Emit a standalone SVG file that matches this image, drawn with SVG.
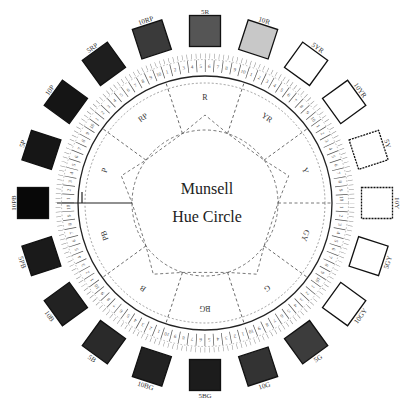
<svg xmlns="http://www.w3.org/2000/svg" width="401" height="401" viewBox="0 0 401 401">
<style>
.sq{stroke:#111;stroke-width:1.3}
.lab{font-family:"Liberation Serif",serif;font-size:7px;fill:#333;text-anchor:middle}
.sec{font-family:"Liberation Serif",serif;font-size:8px;fill:#333;text-anchor:middle}
.num{font-family:"Liberation Serif",serif;font-size:5px;fill:#555;text-anchor:middle}
.title{font-family:"Liberation Serif",serif;font-size:16px;fill:#222;text-anchor:middle}
.dash{fill:none;stroke:#555;stroke-width:0.8;stroke-dasharray:3 2.5}
</style>
<rect width="401" height="401" fill="#fff"/>
<g id="connectors">
<circle cx="205" cy="203" r="73" class="dash"/>
<polygon class="dash" points="182.44,133.57 205,115 227.56,133.57 264.06,160.09 288.70,175.81 278,203 264.06,245.91 256.73,274.19 227.56,272.43 182.44,272.43 153.27,274.19 145.94,245.91 132,203 121.30,175.81 145.94,160.09"/>
<g class="dash">
<line x1="278" y1="203" x2="332" y2="203" transform="rotate(-108 205 203)"/>
<line x1="278" y1="203" x2="332" y2="203" transform="rotate(-72 205 203)"/>
<line x1="278" y1="203" x2="332" y2="203" transform="rotate(-36 205 203)"/>
<line x1="278" y1="203" x2="332" y2="203"/>
<line x1="278" y1="203" x2="332" y2="203" transform="rotate(36 205 203)"/>
<line x1="278" y1="203" x2="332" y2="203" transform="rotate(72 205 203)"/>
<line x1="278" y1="203" x2="332" y2="203" transform="rotate(108 205 203)"/>
<line x1="278" y1="203" x2="332" y2="203" transform="rotate(144 205 203)"/>
<line x1="278" y1="203" x2="332" y2="203" transform="rotate(216 205 203)"/>
</g>
<line x1="132" y1="203" x2="57" y2="203" stroke="#222" stroke-width="1.2"/>
<line x1="82" y1="192" x2="82" y2="203" stroke="#222" stroke-width="1.2"/>
<circle cx="205" cy="203" r="120" fill="none" stroke="#777" stroke-width="0.7" stroke-dasharray="2 2"/>
<circle cx="205" cy="203" r="127" fill="none" stroke="#222" stroke-width="1.3"/>
<circle cx="205" cy="203" r="137" fill="none" stroke="#555" stroke-width="12" stroke-dasharray="0.7 7.908" stroke-dashoffset="0.35"/>
<circle cx="205" cy="203" r="143.5" fill="none" stroke="#888" stroke-width="0.6" stroke-dasharray="1.5 2"/>
<circle cx="205" cy="203" r="147" fill="none" stroke="#888" stroke-width="5" stroke-dasharray="0.5 4.118" stroke-dashoffset="0.25"/>
</g>
<g id="scale-numbers" class="num">
<g><text x="205" y="68" transform="rotate(-16.2 205 203)">1</text><text x="205" y="68" transform="rotate(-12.6 205 203)">2</text><text x="205" y="68" transform="rotate(-9 205 203)">3</text><text x="205" y="68" transform="rotate(-5.4 205 203)">4</text><text x="205" y="68" transform="rotate(-1.8 205 203)">5</text><text x="205" y="68" transform="rotate(1.8 205 203)">6</text><text x="205" y="68" transform="rotate(5.4 205 203)">7</text><text x="205" y="68" transform="rotate(9 205 203)">8</text><text x="205" y="68" transform="rotate(12.6 205 203)">9</text><text x="205" y="68" transform="rotate(16.2 205 203)">10</text></g>
<g transform="rotate(36 205 203)"><text x="205" y="68" transform="rotate(-16.2 205 203)">1</text><text x="205" y="68" transform="rotate(-12.6 205 203)">2</text><text x="205" y="68" transform="rotate(-9 205 203)">3</text><text x="205" y="68" transform="rotate(-5.4 205 203)">4</text><text x="205" y="68" transform="rotate(-1.8 205 203)">5</text><text x="205" y="68" transform="rotate(1.8 205 203)">6</text><text x="205" y="68" transform="rotate(5.4 205 203)">7</text><text x="205" y="68" transform="rotate(9 205 203)">8</text><text x="205" y="68" transform="rotate(12.6 205 203)">9</text><text x="205" y="68" transform="rotate(16.2 205 203)">10</text></g>
<g transform="rotate(72 205 203)"><text x="205" y="68" transform="rotate(-16.2 205 203)">1</text><text x="205" y="68" transform="rotate(-12.6 205 203)">2</text><text x="205" y="68" transform="rotate(-9 205 203)">3</text><text x="205" y="68" transform="rotate(-5.4 205 203)">4</text><text x="205" y="68" transform="rotate(-1.8 205 203)">5</text><text x="205" y="68" transform="rotate(1.8 205 203)">6</text><text x="205" y="68" transform="rotate(5.4 205 203)">7</text><text x="205" y="68" transform="rotate(9 205 203)">8</text><text x="205" y="68" transform="rotate(12.6 205 203)">9</text><text x="205" y="68" transform="rotate(16.2 205 203)">10</text></g>
<g transform="rotate(108 205 203)"><text x="205" y="68" transform="rotate(-16.2 205 203)">1</text><text x="205" y="68" transform="rotate(-12.6 205 203)">2</text><text x="205" y="68" transform="rotate(-9 205 203)">3</text><text x="205" y="68" transform="rotate(-5.4 205 203)">4</text><text x="205" y="68" transform="rotate(-1.8 205 203)">5</text><text x="205" y="68" transform="rotate(1.8 205 203)">6</text><text x="205" y="68" transform="rotate(5.4 205 203)">7</text><text x="205" y="68" transform="rotate(9 205 203)">8</text><text x="205" y="68" transform="rotate(12.6 205 203)">9</text><text x="205" y="68" transform="rotate(16.2 205 203)">10</text></g>
<g transform="rotate(144 205 203)"><text x="205" y="68" transform="rotate(-16.2 205 203)">1</text><text x="205" y="68" transform="rotate(-12.6 205 203)">2</text><text x="205" y="68" transform="rotate(-9 205 203)">3</text><text x="205" y="68" transform="rotate(-5.4 205 203)">4</text><text x="205" y="68" transform="rotate(-1.8 205 203)">5</text><text x="205" y="68" transform="rotate(1.8 205 203)">6</text><text x="205" y="68" transform="rotate(5.4 205 203)">7</text><text x="205" y="68" transform="rotate(9 205 203)">8</text><text x="205" y="68" transform="rotate(12.6 205 203)">9</text><text x="205" y="68" transform="rotate(16.2 205 203)">10</text></g>
<g transform="rotate(180 205 203)"><text x="205" y="68" transform="rotate(-16.2 205 203)">1</text><text x="205" y="68" transform="rotate(-12.6 205 203)">2</text><text x="205" y="68" transform="rotate(-9 205 203)">3</text><text x="205" y="68" transform="rotate(-5.4 205 203)">4</text><text x="205" y="68" transform="rotate(-1.8 205 203)">5</text><text x="205" y="68" transform="rotate(1.8 205 203)">6</text><text x="205" y="68" transform="rotate(5.4 205 203)">7</text><text x="205" y="68" transform="rotate(9 205 203)">8</text><text x="205" y="68" transform="rotate(12.6 205 203)">9</text><text x="205" y="68" transform="rotate(16.2 205 203)">10</text></g>
<g transform="rotate(216 205 203)"><text x="205" y="68" transform="rotate(-16.2 205 203)">1</text><text x="205" y="68" transform="rotate(-12.6 205 203)">2</text><text x="205" y="68" transform="rotate(-9 205 203)">3</text><text x="205" y="68" transform="rotate(-5.4 205 203)">4</text><text x="205" y="68" transform="rotate(-1.8 205 203)">5</text><text x="205" y="68" transform="rotate(1.8 205 203)">6</text><text x="205" y="68" transform="rotate(5.4 205 203)">7</text><text x="205" y="68" transform="rotate(9 205 203)">8</text><text x="205" y="68" transform="rotate(12.6 205 203)">9</text><text x="205" y="68" transform="rotate(16.2 205 203)">10</text></g>
<g transform="rotate(252 205 203)"><text x="205" y="68" transform="rotate(-16.2 205 203)">1</text><text x="205" y="68" transform="rotate(-12.6 205 203)">2</text><text x="205" y="68" transform="rotate(-9 205 203)">3</text><text x="205" y="68" transform="rotate(-5.4 205 203)">4</text><text x="205" y="68" transform="rotate(-1.8 205 203)">5</text><text x="205" y="68" transform="rotate(1.8 205 203)">6</text><text x="205" y="68" transform="rotate(5.4 205 203)">7</text><text x="205" y="68" transform="rotate(9 205 203)">8</text><text x="205" y="68" transform="rotate(12.6 205 203)">9</text><text x="205" y="68" transform="rotate(16.2 205 203)">10</text></g>
<g transform="rotate(288 205 203)"><text x="205" y="68" transform="rotate(-16.2 205 203)">1</text><text x="205" y="68" transform="rotate(-12.6 205 203)">2</text><text x="205" y="68" transform="rotate(-9 205 203)">3</text><text x="205" y="68" transform="rotate(-5.4 205 203)">4</text><text x="205" y="68" transform="rotate(-1.8 205 203)">5</text><text x="205" y="68" transform="rotate(1.8 205 203)">6</text><text x="205" y="68" transform="rotate(5.4 205 203)">7</text><text x="205" y="68" transform="rotate(9 205 203)">8</text><text x="205" y="68" transform="rotate(12.6 205 203)">9</text><text x="205" y="68" transform="rotate(16.2 205 203)">10</text></g>
<g transform="rotate(324 205 203)"><text x="205" y="68" transform="rotate(-16.2 205 203)">1</text><text x="205" y="68" transform="rotate(-12.6 205 203)">2</text><text x="205" y="68" transform="rotate(-9 205 203)">3</text><text x="205" y="68" transform="rotate(-5.4 205 203)">4</text><text x="205" y="68" transform="rotate(-1.8 205 203)">5</text><text x="205" y="68" transform="rotate(1.8 205 203)">6</text><text x="205" y="68" transform="rotate(5.4 205 203)">7</text><text x="205" y="68" transform="rotate(9 205 203)">8</text><text x="205" y="68" transform="rotate(12.6 205 203)">9</text><text x="205" y="68" transform="rotate(16.2 205 203)">10</text></g>
</g>
<g id="sector-labels" class="sec">
<text x="205" y="100">R</text>
<text x="205" y="100" transform="rotate(36 205 203)">YR</text>
<text x="205" y="100" transform="rotate(72 205 203)">Y</text>
<text x="205" y="100" transform="rotate(108 205 203)">GY</text>
<text x="205" y="100" transform="rotate(144 205 203)">G</text>
<text x="205" y="100" transform="rotate(180 205 203)">BG</text>
<text x="205" y="100" transform="rotate(216 205 203)">B</text>
<text x="205" y="100" transform="rotate(252 205 203)">PB</text>
<text x="205" y="100" transform="rotate(288 205 203)">P</text>
<text x="205" y="100" transform="rotate(324 205 203)">RP</text>
</g>
<g id="center-title" class="title">
<text x="207" y="194">Munsell</text>
<text x="207" y="222">Hue Circle</text>
</g>
<g id="n5R"><rect class="sq" x="361.5" y="187.5" width="31" height="31" fill="#555" transform="rotate(-90 205 203)"/><text class="lab" x="205" y="13.5">5R</text></g>
<g id="n10R"><rect class="sq" x="361.5" y="187.5" width="31" height="31" fill="#c8c8c8" transform="rotate(-72 205 203)"/><text class="lab" x="205" y="13.5" transform="rotate(18 205 203)">10R</text></g>
<g id="n5YR"><rect class="sq" x="361.5" y="187.5" width="31" height="31" fill="#fff" transform="rotate(-54 205 203)"/><text class="lab" x="205" y="13.5" transform="rotate(36 205 203)">5YR</text></g>
<g id="n10YR"><rect class="sq" x="361.5" y="187.5" width="31" height="31" fill="#fff" transform="rotate(-36 205 203)"/><text class="lab" x="205" y="13.5" transform="rotate(54 205 203)">10YR</text></g>
<g id="n5Y"><rect class="sq" x="361.5" y="187.5" width="31" height="31" fill="#fff" stroke-dasharray="2 1" transform="rotate(-18 205 203)"/><text class="lab" x="205" y="13.5" transform="rotate(72 205 203)">5Y</text></g>
<g id="n10Y"><rect class="sq" x="361.5" y="187.5" width="31" height="31" fill="#fff" stroke-dasharray="2 1"/><text class="lab" x="205" y="13.5" transform="rotate(90 205 203)">10Y</text></g>
<g id="n5GY"><rect class="sq" x="361.5" y="187.5" width="31" height="31" fill="#fff" transform="rotate(18 205 203)"/><text class="lab" x="205" y="397.5" transform="rotate(-72 205 203)">5GY</text></g>
<g id="n10GY"><rect class="sq" x="361.5" y="187.5" width="31" height="31" fill="#fff" transform="rotate(36 205 203)"/><text class="lab" x="205" y="397.5" transform="rotate(-54 205 203)">10GY</text></g>
<g id="n5G"><rect class="sq" x="361.5" y="187.5" width="31" height="31" fill="#3c3c3c" transform="rotate(54 205 203)"/><text class="lab" x="205" y="397.5" transform="rotate(-36 205 203)">5G</text></g>
<g id="n10G"><rect class="sq" x="361.5" y="187.5" width="31" height="31" fill="#333" transform="rotate(72 205 203)"/><text class="lab" x="205" y="397.5" transform="rotate(-18 205 203)">10G</text></g>
<g id="n5BG"><rect class="sq" x="361.5" y="187.5" width="31" height="31" fill="#1c1c1c" transform="rotate(90 205 203)"/><text class="lab" x="205" y="397.5">5BG</text></g>
<g id="n10BG"><rect class="sq" x="361.5" y="187.5" width="31" height="31" fill="#222" transform="rotate(108 205 203)"/><text class="lab" x="205" y="397.5" transform="rotate(18 205 203)">10BG</text></g>
<g id="n5B"><rect class="sq" x="361.5" y="187.5" width="31" height="31" fill="#2a2a2a" transform="rotate(126 205 203)"/><text class="lab" x="205" y="397.5" transform="rotate(36 205 203)">5B</text></g>
<g id="n10B"><rect class="sq" x="361.5" y="187.5" width="31" height="31" fill="#222" transform="rotate(144 205 203)"/><text class="lab" x="205" y="397.5" transform="rotate(54 205 203)">10B</text></g>
<g id="n5PB"><rect class="sq" x="361.5" y="187.5" width="31" height="31" fill="#1a1a1a" transform="rotate(162 205 203)"/><text class="lab" x="205" y="397.5" transform="rotate(72 205 203)">5PB</text></g>
<g id="n10PB"><rect class="sq" x="361.5" y="187.5" width="31" height="31" fill="#080808" transform="rotate(180 205 203)"/><text class="lab" x="205" y="13.5" transform="rotate(270 205 203)">10PB</text></g>
<g id="n5P"><rect class="sq" x="361.5" y="187.5" width="31" height="31" fill="#161616" transform="rotate(198 205 203)"/><text class="lab" x="205" y="13.5" transform="rotate(288 205 203)">5P</text></g>
<g id="n10P"><rect class="sq" x="361.5" y="187.5" width="31" height="31" fill="#151515" transform="rotate(216 205 203)"/><text class="lab" x="205" y="13.5" transform="rotate(306 205 203)">10P</text></g>
<g id="n5RP"><rect class="sq" x="361.5" y="187.5" width="31" height="31" fill="#1e1e1e" transform="rotate(234 205 203)"/><text class="lab" x="205" y="13.5" transform="rotate(324 205 203)">5RP</text></g>
<g id="n10RP"><rect class="sq" x="361.5" y="187.5" width="31" height="31" fill="#3a3a3a" transform="rotate(252 205 203)"/><text class="lab" x="205" y="13.5" transform="rotate(342 205 203)">10RP</text></g>
</svg>
